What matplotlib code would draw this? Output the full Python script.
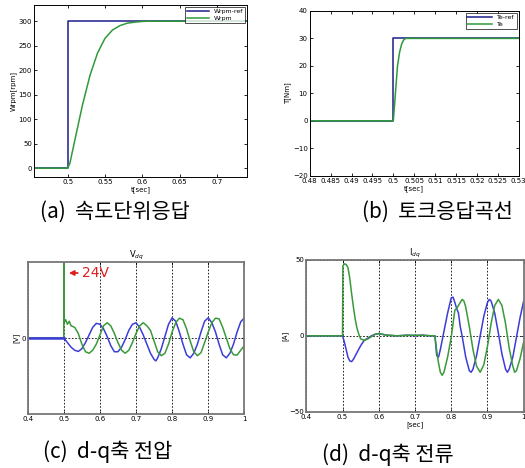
import matplotlib.pyplot as plt

plt.rcParams['font.family'] = ['DejaVu Sans', 'Noto Sans CJK KR']

# (a) speed step response
t_a_ref = [0.455, 0.5, 0.5, 0.74]
w_ref = [0, 0, 300, 300]
t_a = [0.455, 0.5, 0.503, 0.51, 0.52, 0.53, 0.54, 0.55, 0.56, 0.57, 0.58, 0.59, 0.60, 0.61, 0.74]
w_rpm = [0, 0, 10, 60, 130, 190, 235, 265, 282, 291, 296, 298, 299.5, 300, 300]

# (b) torque response
t_b_ref = [0.48, 0.5, 0.5, 0.53]
te_ref = [0, 0, 30, 30]
t_b = [0.48, 0.5, 0.5005, 0.501, 0.5015, 0.502, 0.5025, 0.503, 0.53]
te = [0, 0, 10, 20, 25, 28, 29.5, 30, 30]

# (c) d-q voltage
t_c_d = [0.40, 0.50, 0.51, 0.52, 0.53, 0.54, 0.55, 0.56, 0.57, 0.58, 0.59, 0.60,
         0.61, 0.62, 0.63, 0.64, 0.65, 0.66, 0.67, 0.68, 0.69, 0.70, 0.71, 0.72,
         0.73, 0.74, 0.75, 0.755, 0.76, 0.77, 0.78, 0.79, 0.80, 0.81, 0.82, 0.83,
         0.84, 0.85, 0.86, 0.87, 0.88, 0.89, 0.90, 0.91, 0.92, 0.93, 0.94, 0.95,
         0.96, 0.97, 0.98, 0.99, 1.00]
v_d = [0, 0, -1.5, -3, -4, -4.4, -3.5, -1.5, 1, 3.5, 4.8, 4.5,
       3, 0.5, -2.5, -4.5, -4.5, -3, -0.5, 2.5, 4.5, 5, 3.5, 1,
       -2, -5, -7, -7.5, -6.5, -3.5, 0.5, 4.5, 6.6, 5.5, 2, -2,
       -5.5, -6.5, -5, -2, 2, 5.5, 6.6, 5, 2, -2, -5.5, -6.5,
       -5, -2, 2, 5.3, 6.6]
t_c_q = [0.40, 0.4999, 0.5, 0.501, 0.505, 0.51, 0.515, 0.52, 0.53, 0.54, 0.55, 0.56,
         0.57, 0.58, 0.59, 0.60, 0.61, 0.62, 0.63, 0.64, 0.65, 0.66, 0.67, 0.68,
         0.69, 0.70, 0.71, 0.72, 0.73, 0.74, 0.75, 0.76, 0.77, 0.78, 0.79, 0.80,
         0.81, 0.82, 0.83, 0.84, 0.85, 0.86, 0.87, 0.88, 0.89, 0.90, 0.91, 0.92,
         0.93, 0.94, 0.95, 0.96, 0.97, 0.98, 0.99, 1.00]
v_q = [0, 0, 26, 5, 6, 4.5, 5.5, 4, 3.5, 1.5, -2, -4.5,
       -5, -4, -2, 1, 4, 5, 4, 1.5, -1.5, -4, -5, -4,
       -1.5, 1.5, 4, 5, 4, 2.5, -1, -4.5, -5.8, -5, -2, 2,
       5, 6.5, 6, 3, -1, -4.5, -5.8, -4.8, -1.5, 2, 5, 6.5,
       6.3, 3.5, 0, -3.5, -5.5, -5.6, -4, -2.5]

# (d) d-q current
t_d_d = [0.40, 0.50, 0.505, 0.51, 0.515, 0.52, 0.525, 0.53, 0.54, 0.55, 0.56, 0.57,
         0.58, 0.59, 0.60, 0.61, 0.62, 0.65, 0.68, 0.70, 0.72, 0.74, 0.755, 0.76,
         0.765, 0.77, 0.78, 0.79, 0.80, 0.805, 0.81, 0.815, 0.82, 0.825, 0.83, 0.84,
         0.85, 0.855, 0.86, 0.87, 0.88, 0.89, 0.90, 0.905, 0.91, 0.92, 0.93, 0.94,
         0.95, 0.955, 0.96, 0.97, 0.98, 0.99, 1.00]
i_d = [0, 0, -4, -9, -14, -16.5, -17, -15.5, -11, -6.5, -3, -1.5,
       0, 1, 1.5, 1, 0.5, 0, 0.5, 0, 0.5, 0, 0, -13,
       -14, -9, 3, 15, 25, 25.5, 22, 18, 15, 6, 0, -14,
       -23, -24, -22, -13, 0, 13, 22, 24, 23, 15, 2, -12,
       -22, -24, -22, -14, -1, 12, 23]
t_d_q = [0.40, 0.50, 0.501, 0.505, 0.51, 0.515, 0.52, 0.525, 0.53, 0.535, 0.54, 0.545,
         0.55, 0.56, 0.57, 0.58, 0.59, 0.60, 0.62, 0.65, 0.70, 0.755, 0.76, 0.765,
         0.77, 0.775, 0.78, 0.79, 0.80, 0.805, 0.81, 0.815, 0.82, 0.83, 0.835, 0.84,
         0.85, 0.86, 0.87, 0.88, 0.89, 0.90, 0.91, 0.92, 0.93, 0.94, 0.95, 0.96,
         0.97, 0.975, 0.98, 0.99, 1.00]
i_q = [0, 0, 46, 47.5, 47, 45, 38, 28, 19, 11, 5, 1,
       -2, -3, -2, -0.5, 1, 1.5, 0.5, 0, 0.5, 0, -10, -18,
       -24, -26, -24, -14, -1, 8, 17, 18, 20, 24, 23, 19,
       6, -9, -20, -24, -19, -7, 8, 20, 24, 20, 8, -8,
       -20, -24, -23, -15, -4]

BLUE_A = '#1c1c8c'
GREEN_A = '#2f9a3a'
BLUE_C = '#3c3cd8'
GREEN_C = '#3a9a3a'
TICK_FS = 5


def matlab_style(ax, edge='black', lw=0.7):
    ax.tick_params(direction='in', top=True, right=True, labelsize=TICK_FS,
                   length=2.5, width=0.6, pad=1.5)
    for s in ax.spines.values():
        s.set_linewidth(lw)
        s.set_color(edge)


fig = plt.figure(figsize=(5.25, 4.68), dpi=100)

# (a)
ax1 = fig.add_axes([0.0648, 0.6218, 0.4057, 0.3675])
ax1.plot(t_a_ref, w_ref, color=BLUE_A, lw=1.1, label='Wrpm-ref')
ax1.plot(t_a, w_rpm, color=GREEN_A, lw=1.1, label='Wrpm')
ax1.set_xlim(0.455, 0.74)
ax1.set_ylim(-18, 333)
ax1.set_xticks([0.5, 0.55, 0.6, 0.65, 0.7])
ax1.set_xticklabels(['0.5', '0.55', '0.6', '0.65', '0.7'])
ax1.set_yticks([0, 50, 100, 150, 200, 250, 300])
ax1.set_xlabel('t[sec]', fontsize=TICK_FS, labelpad=1)
ax1.set_ylabel('Wrpm[rpm]', fontsize=TICK_FS, labelpad=1)
matlab_style(ax1)
ax1.legend(loc='upper right', fontsize=4.5, frameon=True, fancybox=False,
           edgecolor='black', borderpad=0.3, handlelength=3.5, labelspacing=0.2,
           borderaxespad=0.3).get_frame().set_linewidth(0.6)

# (b)
ax2 = fig.add_axes([0.590, 0.6246, 0.398, 0.352])
ax2.plot(t_b_ref, te_ref, color=BLUE_A, lw=1.1, label='Te-ref')
ax2.plot(t_b, te, color=GREEN_A, lw=1.1, label='Te')
ax2.set_xlim(0.48, 0.53)
ax2.set_ylim(-20, 40)
ax2.set_xticks([0.48, 0.485, 0.49, 0.495, 0.5, 0.505, 0.51, 0.515, 0.52, 0.525, 0.53])
ax2.set_xticklabels(['0.48', '0.485', '0.49', '0.495', '0.5', '0.505', '0.51',
                     '0.515', '0.52', '0.525', '0.53'])
ax2.set_yticks([-20, -10, 0, 10, 20, 30, 40])
ax2.set_xlabel('t[sec]', fontsize=TICK_FS, labelpad=1)
ax2.set_ylabel('T[Nm]', fontsize=TICK_FS, labelpad=1)
matlab_style(ax2)
ax2.legend(loc='upper right', fontsize=4.5, frameon=True, fancybox=False,
           edgecolor='black', borderpad=0.3, handlelength=4, labelspacing=0.2,
           borderaxespad=0.3).get_frame().set_linewidth(0.6)

# (c)
ax3 = fig.add_axes([0.0528, 0.1147, 0.4126, 0.3261])
ax3.plot(t_c_d, v_d, color=BLUE_C, lw=1.1)
ax3.plot(t_c_q, v_q, color=GREEN_C, lw=1.1)
ax3.plot([0.4, 0.5], [0, 0], color=BLUE_C, lw=1.8)
ax3.set_xlim(0.4, 1.0)
ax3.set_ylim(-25, 25)
ax3.set_xticks([0.4, 0.5, 0.6, 0.7, 0.8, 0.9, 1.0])
ax3.set_xticklabels(['0.4', '0.5', '0.6', '0.7', '0.8', '0.9', '1'])
ax3.set_yticks([0])
ax3.grid(True, color='black', linestyle=(0, (2, 2)), lw=0.6)
ax3.set_title('V$_{dq}$', fontsize=TICK_FS + 1, pad=3)
ax3.set_ylabel('[V]', fontsize=TICK_FS, labelpad=1)
matlab_style(ax3, edge='#777777', lw=1.3)
ax3.annotate('24V', xy=(0.514, 21.3), xytext=(0.55, 21.3), color='#e02020',
             fontsize=10, va='center', ha='left',
             arrowprops=dict(arrowstyle='-|>', color='#e02020', lw=1.3,
                             mutation_scale=7, shrinkA=1, shrinkB=0))

# (d)
ax4 = fig.add_axes([0.5834, 0.1203, 0.4141, 0.3242])
ax4.plot(t_d_d, i_d, color=BLUE_C, lw=1.1)
ax4.plot(t_d_q, i_q, color=GREEN_C, lw=1.1)
ax4.set_xlim(0.4, 1.0)
ax4.set_ylim(-50, 50)
ax4.set_xticks([0.4, 0.5, 0.6, 0.7, 0.8, 0.9, 1.0])
ax4.set_xticklabels(['0.4', '0.5', '0.6', '0.7', '0.8', '0.9', '1'])
ax4.set_yticks([-50, 0, 50])
ax4.grid(True, color='black', linestyle=(0, (2, 2)), lw=0.6)
ax4.set_title('I$_{dq}$', fontsize=TICK_FS + 1, pad=3)
ax4.set_xlabel('[sec]', fontsize=TICK_FS, labelpad=1)
ax4.set_ylabel('[A]', fontsize=TICK_FS, labelpad=1)
matlab_style(ax4, edge='#777777', lw=1.3)

# captions
cap = dict(fontsize=15, family=['Noto Sans CJK KR', 'DejaVu Sans'],
           ha='left', va='center')
fig.text(40 / 525, 1 - 212 / 468, '(a)  속도단위응답', **cap)
fig.text(362 / 525, 1 - 212 / 468, '(b)  토크응답곡선', **cap)
fig.text(43 / 525, 1 - 452 / 468, '(c)  d-q축 전압', **cap)
fig.text(322 / 525, 1 - 455 / 468, '(d)  d-q축 전류', **cap)

fig.savefig('out.png', dpi=100)
